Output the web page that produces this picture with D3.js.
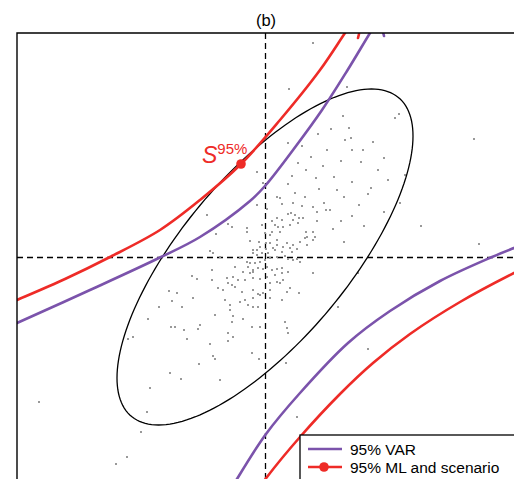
<!DOCTYPE html>
<html><head><meta charset="utf-8">
<script src="https://cdn.jsdelivr.net/npm/d3@7"></script>
<style>body{margin:0;background:#fff}svg{display:block}text{font-family:"Liberation Sans",Arial,sans-serif}</style>
</head><body><div id="chart"></div>
<script>
// ---- data (units: standardized returns, crosshair at 0,0) ----
const title = "(b)";
const xLim = [-24.8, 27];
const yLim = [-25, 22.4];
const ellipseCenter = [0, 0];
const ellipseSD = [14.8, 16.8];
const ellipseRho = 0.72;
const scenarioPoint = [-2.4, 9.3];
const scenarioLabel = ["S", "95%"];
const legendLabels = ["95% VAR", "95% ML and scenario"];
const varUpper = [[-25.5,-6.9],[-24.8,-6.6],[-17.5,-3.3],[-10.4,0],[-6.5,2.0],[-1.5,5.6],[0,7.1],[3.1,11.1],[5.7,14.7],[8.2,18.6],[10.5,22.4],[11.2,23.5]];
const varLower = [[-3.5,-23.4],[-2.8,-22.2],[0.1,-17.7],[3.5,-13.6],[8.3,-8.6],[12.5,-5.4],[17.5,-2.4],[22.7,0],[24.9,0.9],[27,1.7]];
const varStub = [[11.8,22.5],[11.9,22.1]];
const mlUpper = [[-25.5,-4.6],[-24.8,-4.3],[-20,-2.2],[-15.5,0],[-10.5,2.7],[-6.5,5.7],[-2.4,9.3],[1.5,13.7],[5.5,18.7],[8.0,22.4],[8.7,23.4]];
const mlLower = [[-0.5,-23],[0.2,-22],[3.5,-18],[7.5,-13.7],[10.8,-10.6],[14.5,-7.7],[19.5,-4.5],[24.9,-1.6],[27,-0.6]];
const mlStub = [[9.4,22.3],[9.3,21.9]];
const scatter = [
[-0.77,5.2],[1.67,5.3],[2.77,5.43],[3.67,5.1],[4.83,5.03],[5.9,5.43],[5.17,4.53],[6.1,4.7],[-5.83,4.2],[0.23,4.77],
[0.73,3.6],[1.23,3.87],[1.67,3.7],[2.27,4.3],[2.57,4.43],[3.0,4.2],[3.4,3.87],[3.33,3.37],[2.77,3.7],[3.83,3.87],
[2.5,3.2],[1.83,3.03],[1.33,3.03],[1.0,3.2],[1.5,2.53],[0.67,2.53],[0,2.37],[0.5,2.2],[-0.33,3.2],[-1.83,2.87],
[-1.83,2.53],[-3.67,3.3],[-3.33,3.03],[-4.9,2.3],[-1.5,1.63],[-0.57,1.53],[0.1,1.37],[0.5,1.37],[1.17,1.7],[2.17,1.43],
[2.83,1.2],[1.83,1.03],[1.23,1.2],[0.77,0.87],[0.1,0.77],[-0.5,1.03],[-0.83,0.7],[-1.17,0.7],[-1.17,0.37],[-0.83,0.2],
[-0.33,0.43],[0.33,0.43],[1.0,0.7],[1.67,0.53],[2.5,0.87],[2.67,0.53],[3.17,0.77],[3.5,1.53],[4.0,1.87],[4.17,1.2],
[5.0,2.03],[4.83,2.53],[4.1,2.53],[-5.5,0.63],[-5.17,0.43],[-4.5,-0.03],[-2.5,-0.13],[-1.83,-0.47],[-1.5,-0.63],[-1.0,-0.57],
[-0.5,-0.47],[0,-0.3],[0.5,-0.13],[1.17,-0.03],[2.0,0.1],[2.33,-0.23],[2.83,-0.3],[3.17,-0.23],[3.5,-0.47],[-1.67,-0.97],
[-1.17,-1.3],[-0.67,-1.13],[-0.17,-1.23],[0.17,-0.97],[0.67,-1.3],[1.17,-1.23],[1.67,-1.13],[-1.17,-1.47],[-1.5,-1.63],[-2.17,-1.47],
[-3.0,-0.97],[-5.33,-1.3],[-3.83,-2.13],[-3.17,-1.97],[-2.67,-2.3],[-2.0,-2.3],[-1.17,-2.13],[-0.5,-2.23],[0.17,-2.03],[1.0,-1.8],
[1.67,-1.63],[2.33,-1.47],[1.83,-2.3],[1.17,-2.47],[1.5,-2.63],[0.5,-2.57],[-3.67,-2.63],[-4.67,-3.13],[-4.17,-3.3],[-3.33,-2.8],
[-3.0,-3.03],[-2.33,-3.47],[-1.17,-3.3],[-0.67,-3.7],[-0.17,-3.57],[0.5,-3.3],[2.5,-3.13],[2.17,-3.47],[3.43,-3.63],[4.83,-1.57],
[-5.33,-2.3],[-4.0,-4.3],[-3.5,-4.8],[-2.5,-4.47],[-2.0,-4.3],[-1.17,-4.13],[-0.5,-3.8],[0.5,-4.13],[1.67,-4.3],[-1.17,-4.97],
[-1.67,-4.8],[-0.67,-5.03],[-3.5,-5.3],[-3.17,-5.9],[-2.17,-6.2],[-1.33,-7.03],[-0.5,-6.97],[-5.0,-5.8],[-3.33,-6.47],[-3.67,-7.63],
[-3.17,-7.97],[2.0,-6.47],[2.17,-7.13],[2.33,-7.63],[7.33,-4.97],[-6.5,-6.8],
[4.8,21.4],[2.4,16.8],[8.2,17.0],[7.8,14.1],[13.4,14.3],[13.0,13.9],[8.4,12.9],[8.6,11.9],[20.9,11.8],
[2.3,11.4],[3.3,9.4],[-0.8,8.5],[-0.2,7.4],[2.3,7.3],[1.2,6.0],[1.5,5.9],[3.0,6.4],
[-7.3,-1.9],[-6.8,-2.2],[-9.6,-3.4],[-8.8,-3.6],[-7.2,-4.1],[-9.3,-4.4],[-8.3,-5.0],[-10.6,-5.0],[-11.7,-6.2],[-9.4,-7.0],
[-9.0,-7.0],[-8.1,-7.3],[-6.7,-7.2],[-13.7,-8.2],[-13.2,-8.0],[-7.8,-8.2],
[-22.6,-14.5],[-9.5,-11.6],[-8.4,-12.2],[-11.5,-13.1],[-6.6,-10.7],[-11.8,-15.5],[-12.4,-17.5],[-13.8,-20.0],[-14.9,-20.7],
[5.2,3.6],[7.6,3.6],[9.9,3.1],[15.6,3.1],[6.8,2.8],[4.2,2.0],[4.8,1.7],[7.9,1.5],[21.4,1.3],[9.3,-1.6],[10.3,-9.2],
[-5.5,-8.7],[-3.7,-8.4],[-5.2,-9.9],[-5.0,-10.2],[-1.3,-9.6],[-0.6,-10.2],[2.1,-10.6],[-4.5,-12.3],[3.2,-16.0],
[3.7,11.1],[5.3,12.3],[6.6,12.8],[8.7,10.7],[10.8,11.5],[11.9,9.9],[9.6,9.5],[7.6,9.6],[5.8,9.1],[4.1,8.7],
[2.7,8.1],[6.9,8.0],[8.7,7.5],[10.6,6.9],[12.3,7.7],[5.4,6.8],[4.0,6.0],[7.9,6.0],[9.4,5.2],[6.5,4.7],
[11.9,4.5],[13.5,5.4],[8.7,4.1],[10.3,6.3],[4.6,10.0],[6.2,10.7],[8.0,11.7],[14.0,8.2],[11.3,8.7],[7.2,6.7],
[5.1,7.9],[9.8,10.7]
];

// ---- colours ----
const RED = "#ee2b27", PURPLE = "#7b53ab";

const W = 514, H = 479;
const svg = d3.select("#chart").append("svg").attr("width", W).attr("height", H);
const x = d3.scaleLinear().domain([-25, 25]).range([15, 515]);
const y = d3.scaleLinear().domain([-25, 25]).range([507, 7]);

svg.append("defs").append("clipPath").attr("id", "plot")
  .append("rect").attr("x", x(xLim[0])).attr("y", y(yLim[1]))
  .attr("width", x(xLim[1]) - x(xLim[0])).attr("height", y(yLim[0]) - y(yLim[1]));

const g = svg.append("g").attr("clip-path", "url(#plot)");

// crosshair (snapped to pixel centres for crisp dashes)
const cx0 = Math.round(x(0)) + 0.5, cy0 = Math.round(y(0)) + 0.5;
g.append("line").attr("x1", cx0).attr("x2", cx0).attr("y1", y(yLim[1])).attr("y2", y(yLim[0]))
  .attr("stroke", "#000").attr("stroke-width", 1.3).attr("stroke-dasharray", "6,4");
g.append("line").attr("x1", x(xLim[0])).attr("x2", x(xLim[1])).attr("y1", cy0).attr("y2", cy0)
  .attr("stroke", "#000").attr("stroke-width", 1.3).attr("stroke-dasharray", "6,4");

// scatter
g.selectAll("rect.pt").data(scatter).join("rect").attr("class", "pt")
  .attr("x", d => Math.round(x(d[0])) - 1).attr("y", d => Math.round(y(d[1])) - 1).attr("width", 2).attr("height", 2)
  .attr("fill", "#999");

// ellipse
const ts = d3.range(0, 2 * Math.PI + 0.01, Math.PI / 90);
const ell = ts.map(t => [ellipseCenter[0] + ellipseSD[0] * Math.cos(t),
  ellipseCenter[1] + ellipseSD[1] * (ellipseRho * Math.cos(t) + Math.sqrt(1 - ellipseRho * ellipseRho) * Math.sin(t))]);
const line = d3.line().x(d => x(d[0])).y(d => y(d[1]));
g.append("path").attr("d", line(ell)).attr("fill", "none").attr("stroke", "#000").attr("stroke-width", 1.3);

const curve = d3.line().x(d => x(d[0])).y(d => y(d[1])).curve(d3.curveCatmullRom.alpha(0.5));
[[varUpper, PURPLE], [varLower, PURPLE], [varStub, PURPLE], [mlUpper, RED], [mlLower, RED], [mlStub, RED]].forEach(([d, c]) => {
  g.append("path").attr("d", curve(d)).attr("fill", "none").attr("stroke", c).attr("stroke-width", 2.6).attr("stroke-linecap", "round");
});

// scenario point
g.append("circle").attr("cx", x(scenarioPoint[0])).attr("cy", y(scenarioPoint[1])).attr("r", 4.8).attr("fill", RED);
const lab = svg.append("text").attr("x", x(scenarioPoint[0]) - 39).attr("y", y(scenarioPoint[1]) - 1).attr("fill", RED);
lab.append("tspan").attr("font-style", "italic").attr("font-size", 23).text(scenarioLabel[0]);
lab.append("tspan").attr("font-size", 15).attr("dy", -9).text(scenarioLabel[1]);

// frame (left and top edges; right/bottom off canvas)
svg.append("path")
  .attr("d", `M${x(xLim[0])},${y(yLim[0])}V${y(yLim[1])}H${x(xLim[1])}`)
  .attr("fill", "none").attr("stroke", "#000").attr("stroke-width", 1.4);

// title
svg.append("text").attr("x", x(0) + 1).attr("y", 26).attr("text-anchor", "middle")
  .attr("font-size", 16.5).text(title);

// legend
const lg = svg.append("g").attr("transform", "translate(300,435)");
lg.append("rect").attr("x", 0).attr("y", 0).attr("width", 240).attr("height", 80)
  .attr("fill", "#fff").attr("stroke", "#000").attr("stroke-width", 1.3);
lg.append("line").attr("x1", 8).attr("x2", 42).attr("y1", 14).attr("y2", 14).attr("stroke", PURPLE).attr("stroke-width", 2.6);
lg.append("line").attr("x1", 8).attr("x2", 42).attr("y1", 32).attr("y2", 32).attr("stroke", RED).attr("stroke-width", 2.6);
lg.append("circle").attr("cx", 24).attr("cy", 32).attr("r", 4.8).attr("fill", RED);
lg.selectAll("text.lt").data(legendLabels).join("text").attr("class", "lt")
  .attr("x", 50).attr("y", (d, i) => 19.5 + i * 18).attr("font-size", 15.5).text(d => d);
</script></body></html>
